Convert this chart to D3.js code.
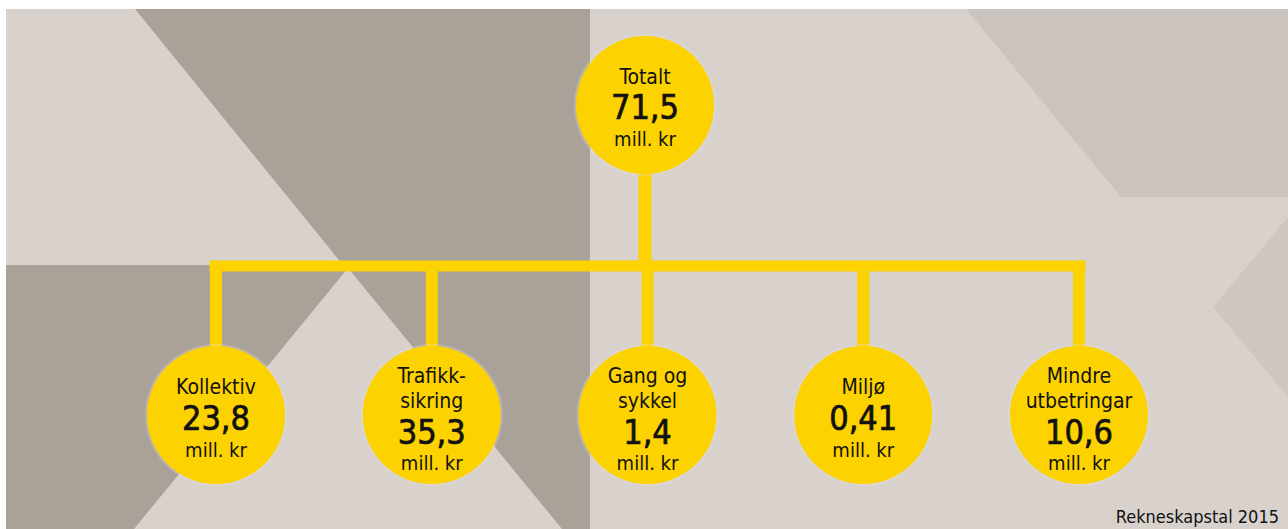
<!DOCTYPE html>
<html>
<head>
<meta charset="utf-8">
<script src="https://cdn.jsdelivr.net/npm/d3@7"></script>
<style>
  body { margin: 0; background: #fff; }
  text { font-family: "Liberation Sans Narrow", "DejaVu Sans Condensed", "Roboto", sans-serif; fill: #111; }
  .val { stroke: #111; stroke-width: 0.7px; }
</style>
</head>
<body>
<div id="chart"></div>
<script>
// data
var rootLabel = ["Totalt"];
var rootValue = 71.5;
var categories = ["Kollektiv", "Trafikksikring", "Gang og sykkel", "Miljø", "Mindre utbetringar"];
var labelLines = [["Kollektiv"], ["Trafikk-", "sikring"], ["Gang og", "sykkel"], ["Miljø"], ["Mindre", "utbetringar"]];
var values = [23.8, 35.3, 1.4, 0.41, 10.6];
var unit = "mill. kr";
var source = "Rekneskapstal 2015";

var w = 1288, h = 529;
var yellow = "#fcd200";

var svg = d3.select("#chart").append("svg")
    .attr("width", w)
    .attr("height", h);

// background blocks
var bg = svg.append("g");
bg.append("rect").attr("x", 6).attr("y", 9).attr("width", w - 6).attr("height", h - 9).attr("fill", "#d9d2cc");
bg.append("path").attr("d", "M966,9 L1288,9 L1288,197 L1121,197 Z").attr("fill", "#cbc4be");
bg.append("path").attr("d", "M1288,217 L1213,307 L1288,397 Z").attr("fill", "#cec7c1");
bg.append("path").attr("d", "M135,9 L590,9 L590,265 L343,265 Z").attr("fill", "#aaa199");
bg.append("path").attr("d", "M6,265 L590,265 L590,529 L6,529 Z").attr("fill", "#aaa199");
bg.append("path").attr("d", "M348,268 L562,529 L134,529 Z").attr("fill", "#d9d2cc");

// scales
var x = d3.scalePoint()
    .domain(categories)
    .range([216, 1079]);

var rootX = 645, rootY = 105;
var childY = 415;
var barY = 266;
var r = 69;

function fmt(v) { return String(v).replace(".", ","); }

// connectors
var links = svg.append("g").attr("stroke", yellow).attr("fill", "none");
links.append("line")
    .attr("x1", rootX).attr("x2", rootX)
    .attr("y1", rootY).attr("y2", barY)
    .attr("stroke-width", 13);
links.append("line")
    .attr("x1", x(categories[0]) - 6.5).attr("x2", x(categories[categories.length - 1]) + 6.5)
    .attr("y1", barY).attr("y2", barY)
    .attr("stroke-width", 11);
links.selectAll(".stem")
    .data(categories)
    .enter().append("line")
    .attr("class", "stem")
    .attr("x1", function(d) { return x(d); })
    .attr("x2", function(d) { return x(d); })
    .attr("y1", barY)
    .attr("y2", childY)
    .attr("stroke-width", 12);

// root node
var root = svg.append("g").attr("transform", "translate(" + rootX + "," + rootY + ")");
root.append("circle").attr("r", r + 2).attr("fill", "#e4dfda").attr("opacity", 0.3);
root.append("circle").attr("r", r).attr("fill", yellow);
root.append("text").attr("text-anchor", "middle").attr("y", -21).style("font-size", "21px").text(rootLabel[0]);
root.append("text").attr("class", "val").attr("text-anchor", "middle").attr("y", 14).style("font-size", "34px").text(fmt(rootValue));
root.append("text").attr("text-anchor", "middle").attr("y", 41).style("font-size", "20px").text(unit);

// child nodes
var nodes = svg.selectAll(".node")
    .data(categories)
    .enter().append("g")
    .attr("class", "node")
    .attr("transform", function(d) { return "translate(" + x(d) + "," + childY + ")"; });

nodes.append("circle").attr("r", r + 2).attr("fill", "#e4dfda").attr("opacity", 0.3);
nodes.append("circle").attr("r", r).attr("fill", yellow);

nodes.each(function(d, i) {
    var g = d3.select(this);
    var lines = labelLines[i];
    var two = lines.length > 1;
    var top = two ? -32 : -21;
    lines.forEach(function(t, j) {
        g.append("text").attr("text-anchor", "middle")
            .attr("y", top + j * 25)
            .style("font-size", "21px")
            .text(t);
    });
    g.append("text").attr("class", "val").attr("text-anchor", "middle")
        .attr("y", two ? 29 : 15)
        .style("font-size", "34px")
        .text(fmt(values[i]));
    g.append("text").attr("text-anchor", "middle")
        .attr("y", two ? 55 : 42)
        .style("font-size", "20px")
        .text(unit);
});

svg.append("text")
    .attr("x", 1279).attr("y", 523)
    .attr("text-anchor", "end")
    .style("font-size", "18px")
    .text(source);
</script>
</body>
</html>
